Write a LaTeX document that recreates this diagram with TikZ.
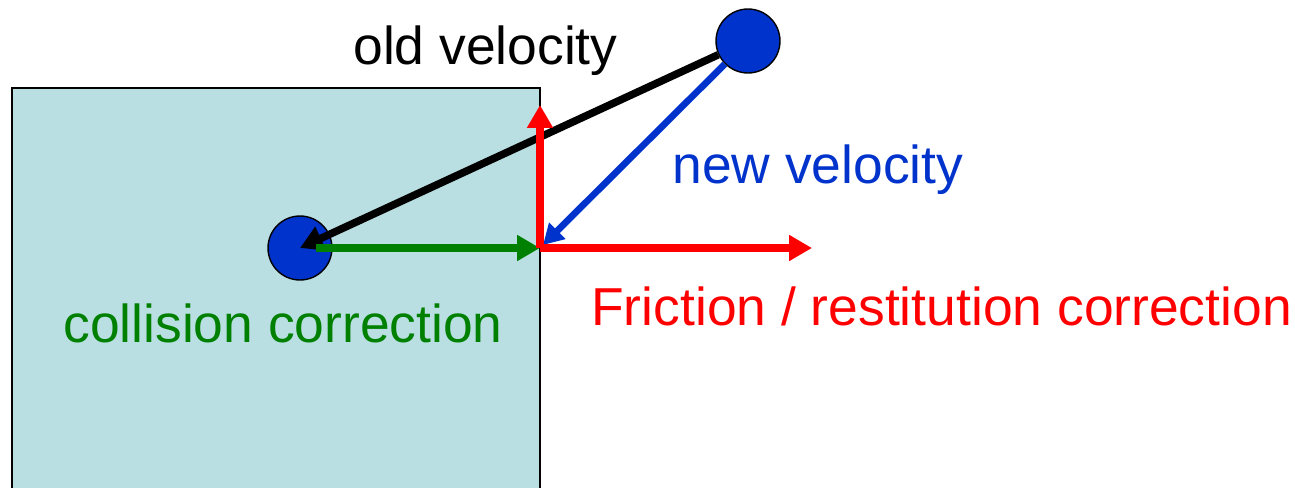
\documentclass[tikz,border=0pt]{standalone}
\usepackage{fontspec}
\setmainfont{Liberation Sans}
\usetikzlibrary{arrows.meta}
\definecolor{boxfill}{RGB}{185,223,226}
\definecolor{ballblue}{RGB}{0,51,204}
\definecolor{corrgreen}{RGB}{0,128,0}

\begin{document}
\begin{tikzpicture}[
  x=0.02cm, y=-0.02cm,
  ball/.style={circle,draw=black,line width=0.8pt,fill=ballblue,minimum size=1.28cm,inner sep=0pt},
  lbl/.style={anchor=base west,inner sep=0pt,font=\fontsize{30.4}{36}\selectfont},
  arr/.style={-{Triangle[length=13pt,width=14pt]},line width=4.3pt}
]
\useasboundingbox (0,0) rectangle (1295,487);
\clip (0,0) rectangle (1295,487);

% the wall
\draw[fill=boxfill,line width=1.3pt] (12,520) rectangle (540,88);

\node[ball] (old) at (300,248) {};
\node[ball] (new) at (748,41) {};
\coordinate (hit) at (540,248);
\coordinate (up) at (540,105);
\coordinate (right) at (812,248);
\coordinate (bounce) at (543,245);

\draw[arr,black] (new) -- (old.center);
\draw[arr,ballblue,line width=3.8pt,-{Triangle[length=11.5pt,width=12.5pt]}] (new) -- (bounce);
\draw[arr,corrgreen,shorten <=9pt] (old.center) -- (hit);
\draw[arr,red] (hit) -- (up);
\draw[arr,red] (hit) -- (right);

\node[lbl] (oldlbl) at (353,64) {old velocity};
\node[lbl,text=ballblue] (newlbl) at (672,183) {new velocity};
\node[lbl,text=corrgreen] (coll) at (63,342) {collision correction};
\node[lbl,text=red] (fric) at (591,325) {Friction / restitution correction};
\end{tikzpicture}
\end{document}
